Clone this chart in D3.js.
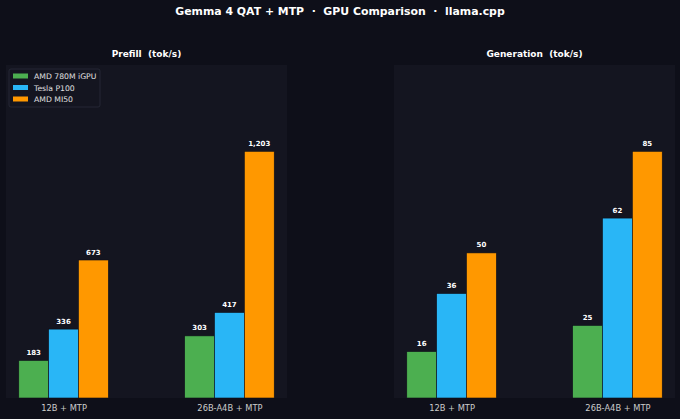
<!DOCTYPE html>
<html>
<head>
<meta charset="utf-8">
<script src="https://cdn.jsdelivr.net/npm/d3@7"></script>
<style>
  body { margin: 0; background: #0e0f19; }
  svg { display: block; font-family: "DejaVu Sans", sans-serif; }
  text { white-space: pre; }
</style>
</head>
<body>
<svg id="chart" width="680" height="419"></svg>
<script>
// data
var categories = ["12B + MTP", "26B-A4B + MTP"];
var gpus = ["AMD 780M iGPU", "Tesla P100", "AMD MI50"];
var colors = ["#4caf50", "#29b6f6", "#ff9800"];
var prefill = [[183, 336, 673], [303, 417, 1203]];     // per category, per gpu
var generation = [[16, 36, 50], [25, 62, 85]];
var panelTitles = ["Prefill  (tok/s)", "Generation  (tok/s)"];

var svg = d3.select("#chart");
var W = 680, H = 419;

svg.append("rect").attr("width", W).attr("height", H).attr("fill", "#0e0f19");

svg.append("text")
    .attr("x", W / 2).attr("y", 15)
    .attr("text-anchor", "middle")
    .attr("fill", "#ffffff")
    .attr("font-size", 10.9)
    .attr("font-weight", "bold")
    .text("Gemma 4 QAT + MTP  \u00b7  GPU Comparison  \u00b7  llama.cpp");

var panels = [
    { left: 6, right: 287, data: prefill, fmt: d3.format(",") },
    { left: 394, right: 675, data: generation, fmt: d3.format(",") }
];
var plotTop = 65, plotBottom = 398;
var barW = 0.18;

panels.forEach(function (p, pi) {
    var g = svg.append("g");

    g.append("rect")
        .attr("x", p.left).attr("y", plotTop)
        .attr("width", p.right - p.left).attr("height", plotBottom - plotTop)
        .attr("fill", "#141520");

    // same xlim as matplotlib default margins
    var x = d3.scaleLinear().domain([-0.347, 1.347]).range([p.left, p.right]);
    var ymax = d3.max(p.data, function (r) { return d3.max(r); }) * 1.35;
    var y = d3.scaleLinear().domain([0, ymax]).range([plotBottom, plotTop]);

    g.append("text")
        .attr("x", (p.left + p.right) / 2).attr("y", 57)
        .attr("text-anchor", "middle")
        .attr("fill", "#ffffff")
        .attr("font-size", 9)
        .attr("font-weight", "bold")
        .text(panelTitles[pi]);

    var flat = [];
    p.data.forEach(function (row, ci) {
        row.forEach(function (v, gi) {
            flat.push({ c: ci, g: gi, v: v });
        });
    });

    function cx(d) { return d.c + (d.g - 1) * barW; }

    g.selectAll(".bar")
        .data(flat)
        .enter()
        .append("rect")
        .attr("class", "bar")
        .attr("x", function (d) { return x(cx(d) - barW / 2); })
        .attr("y", function (d) { return y(d.v); })
        .attr("width", function (d) { return x(cx(d) + barW / 2) - x(cx(d) - barW / 2); })
        .attr("height", function (d) { return y(0) - y(d.v); })
        .attr("fill", function (d) { return colors[d.g]; })
        .attr("stroke", "#0e0f19")
        .attr("stroke-width", 0.6);

    g.selectAll(".lbl")
        .data(flat)
        .enter()
        .append("text")
        .attr("class", "lbl")
        .attr("x", function (d) { return x(cx(d)); })
        .attr("y", function (d) { return y(d.v) - 5.5; })
        .attr("text-anchor", "middle")
        .attr("fill", "#ffffff")
        .attr("font-size", 7)
        .attr("font-weight", "bold")
        .text(function (d) { return p.fmt(d.v); });

    var xAxis = d3.axisBottom(x).tickValues([0, 1]).tickSize(0).tickPadding(7)
        .tickFormat(function (d) { return categories[d]; });
    g.append("g")
        .attr("transform", "translate(0," + plotBottom + ")")
        .call(xAxis)
        .call(function (a) { a.select(".domain").remove(); })
        .selectAll("text")
        .attr("fill", "#cccccc")
        .attr("font-size", 8.3)
        .attr("font-family", "DejaVu Sans, sans-serif");

    if (pi === 0) {
        var lg = g.append("g").attr("transform", "translate(9,69)");
        lg.append("rect")
            .attr("width", 91).attr("height", 38)
            .attr("rx", 2)
            .attr("fill", "#141520")
            .attr("stroke", "#2a2c3a")
            .attr("stroke-width", 0.8);
        gpus.forEach(function (name, i) {
            lg.append("rect")
                .attr("x", 4).attr("y", 4.5 + i * 11.5)
                .attr("width", 15).attr("height", 5)
                .attr("fill", colors[i]);
            lg.append("text")
                .attr("x", 25).attr("y", 10 + i * 11.5)
                .attr("fill", "#e0e0e0")
                .attr("font-size", 7.7)
                .text(name);
        });
    }
});
</script>
</body>
</html>
